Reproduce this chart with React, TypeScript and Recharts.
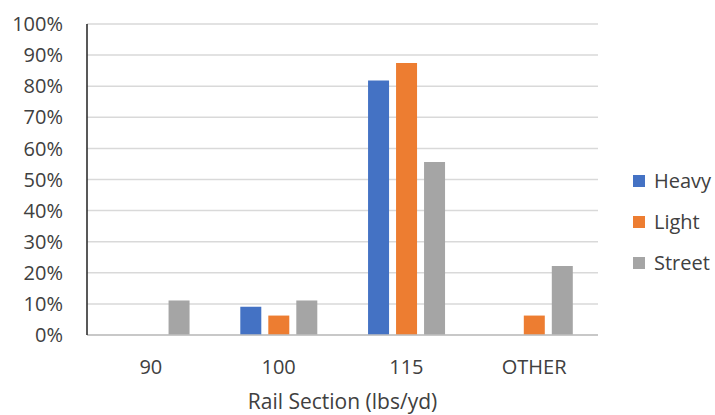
import { BarChart, Bar, XAxis, YAxis, CartesianGrid, Legend, Label } from 'recharts';

const categories = ['90', '100', '115', 'OTHER'];
const heavy = [0, 9.1, 81.8, 0];
const light = [0, 6.25, 87.5, 6.25];
const street = [11.1, 11.1, 55.6, 22.2];
const yTicks = [0, 10, 20, 30, 40, 50, 60, 70, 80, 90, 100];

const seriesInfo = [
  { key: 'Heavy', color: '#4472C4' },
  { key: 'Light', color: '#ED7D31' },
  { key: 'Street', color: '#A5A5A5' },
];

const chartData = categories.map((name, i) => ({
  name,
  Heavy: heavy[i],
  Light: light[i],
  Street: street[i],
}));

const textColor = '#404040';

const LegendBox = () => (
  <div style={{ width: 90 }}>
    {seriesInfo.map((s) => (
      <div key={s.key} style={{ display: 'flex', alignItems: 'center', height: 41 }}>
        <span style={{ display: 'inline-block', width: 12, height: 12, background: s.color, marginRight: 9 }} />
        <span style={{ fontSize: 20, color: textColor, lineHeight: '20px' }}>{s.key}</span>
      </div>
    ))}
  </div>
);

const App = () => {
  return (
    <div style={{ position: 'absolute', left: 0, top: 0, width: 715, height: 415, background: '#fff', fontFamily: '"Open Sans", sans-serif' }}>
      <BarChart
        width={715}
        height={415}
        data={chartData}
        margin={{ top: 24, right: 27, bottom: 0, left: 0 }}
        barCategoryGap="20%"
        barGap={7}
      >
        <CartesianGrid vertical={false} stroke="#D9D9D9" strokeWidth={1.5} />
        <XAxis
          dataKey="name"
          height={80}
          tickSize={0}
          tickMargin={25}
          tick={{ fontSize: 20, fill: textColor }}
          axisLine={{ stroke: '#BFBFBF', strokeWidth: 1.5 }}
          tickLine={false}
        >
          <Label value="Rail Section (lbs/yd)" position="insideBottom" offset={6} style={{ fontSize: 21, fill: textColor }} />
        </XAxis>
        <XAxis xAxisId="top" orientation="top" dataKey="name" height={0} tick={false} tickLine={false} axisLine={{ stroke: '#222', strokeWidth: 1.5 }} />
        <YAxis
          domain={[0, 100]}
          ticks={yTicks}
          width={87}
          tickSize={0}
          tickMargin={24}
          tickFormatter={(v) => `${v}%`}
          tick={{ fontSize: 20, fill: textColor }}
          axisLine={{ stroke: '#222', strokeWidth: 1.5 }}
          tickLine={false}
        />
        <YAxis yAxisId="right" orientation="right" domain={[0, 100]} width={0} tick={false} tickLine={false} axisLine={{ stroke: '#222', strokeWidth: 1.5 }} />
        <Legend
          layout="vertical"
          align="right"
          verticalAlign="middle"
          content={<LegendBox />}
          wrapperStyle={{ left: 633, top: 160, width: 90 }}
        />
        {seriesInfo.map((s) => (
          <Bar key={s.key} dataKey={s.key} fill={s.color} isAnimationActive={false} />
        ))}
      </BarChart>
    </div>
  );
};

export default App;
